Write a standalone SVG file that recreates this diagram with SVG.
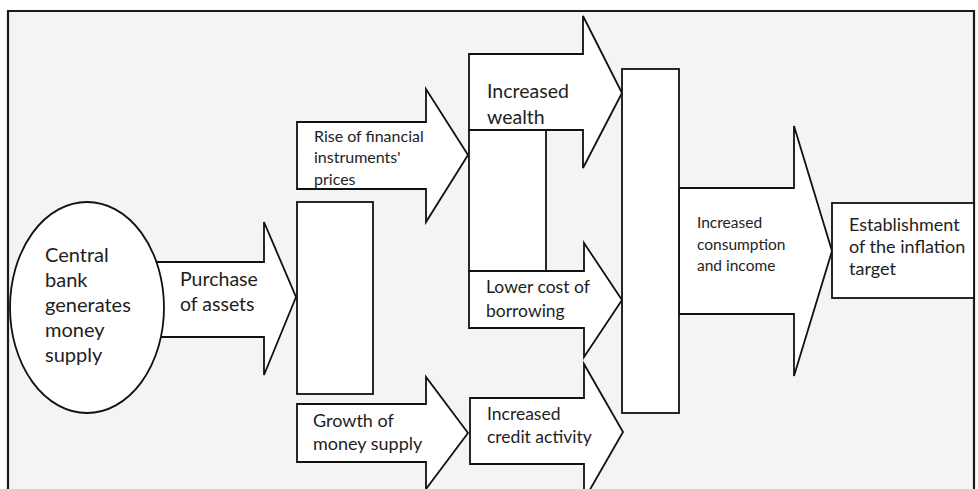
<svg xmlns="http://www.w3.org/2000/svg" width="978" height="489" viewBox="0 0 978 489">
  <style>
    .shape { fill: #ffffff; stroke: #111111; stroke-width: 1.8; stroke-linejoin: miter; }
    .frame { fill: #f4f4f4; stroke: #1a1a1a; stroke-width: 2.2; }
    text { font-family: Lato, "Open Sans", "Liberation Sans", sans-serif; fill: #1e1e1e; }
  </style>
  <rect width="978" height="489" fill="#ffffff"/>
  <path class="frame" d="M8,495 V11 H974 V495 Z"/>

  <g id="connectors">
    <g id="arrow-purchase">
      <path class="shape" d="M140,262 H264 V222 L296,297 L264,375 V337 H140 Z"/>
    </g>
  </g>

  <g id="node-central-bank">
    <ellipse class="shape" cx="87" cy="307.5" rx="77" ry="105.5"/>
    <text font-size="20"><tspan x="45" y="262">Central</tspan><tspan x="45" y="287">bank</tspan><tspan x="45" y="312">generates</tspan><tspan x="45" y="337">money</tspan><tspan x="45" y="362">supply</tspan></text>
  </g>

  <g id="node-purchase-label">
    <text font-size="19.5"><tspan x="180" y="286">Purchase</tspan><tspan x="180" y="311">of assets</tspan></text>
  </g>

  <g id="node-assets-box">
    <rect class="shape" x="297" y="202" width="76" height="192"/>
  </g>

  <g id="node-rise-prices">
    <path class="shape" d="M297,122 H426 V89 L468,155 L426,222 V189 H297 Z"/>
    <text font-size="16"><tspan x="314" y="142">Rise of financial</tspan><tspan x="314" y="163">instruments'</tspan><tspan x="314" y="185">prices</tspan></text>
  </g>

  <g id="node-growth-money">
    <path class="shape" d="M297,404 H426 V377 L468,433 L426,489 V462 H297 Z"/>
    <text font-size="18"><tspan x="313" y="427">Growth of</tspan><tspan x="313" y="450">money supply</tspan></text>
  </g>

  <g id="node-wealth-box">
    <rect class="shape" x="469" y="130" width="77" height="141"/>
  </g>

  <g id="node-increased-wealth">
    <path class="shape" d="M469,54 H583 V16 L622,93 L583,168 V130 H469 Z"/>
    <text font-size="19.5"><tspan x="487" y="98">Increased</tspan><tspan x="487" y="124">wealth</tspan></text>
  </g>

  <g id="node-lower-cost">
    <path class="shape" d="M469,271 H584 V243 L622,300 L584,357 V328 H469 Z"/>
    <text font-size="17.5"><tspan x="486" y="293">Lower cost of</tspan><tspan x="486" y="317">borrowing</tspan></text>
  </g>

  <g id="node-credit-activity">
    <path class="shape" d="M470,398 H584 V364 L623,432 L584,500 V464 H470 Z"/>
    <text font-size="17.5"><tspan x="487" y="420">Increased</tspan><tspan x="487" y="443">credit activity</tspan></text>
  </g>

  <g id="node-consumption">
    <path class="shape" d="M679,188 H794 V126 L832,251 L794,376 V314 H679 Z"/>
    <text font-size="15.5"><tspan x="697" y="228">Increased</tspan><tspan x="697" y="250">consumption</tspan><tspan x="697" y="271">and income</tspan></text>
  </g>

  <g id="node-tall-box">
    <rect class="shape" x="622" y="69" width="57" height="344"/>
  </g>

  <g id="node-inflation-target">
    <rect class="shape" x="832" y="203" width="142" height="95"/>
    <text font-size="18"><tspan x="849" y="231">Establishment</tspan><tspan x="849" y="253">of the inflation</tspan><tspan x="849" y="275">target</tspan></text>
  </g>
</svg>
